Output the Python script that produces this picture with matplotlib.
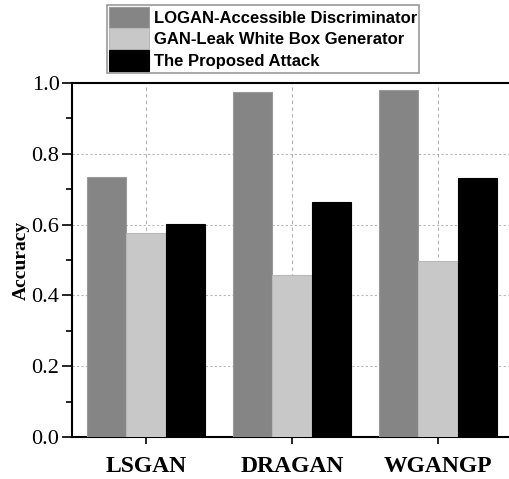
import numpy as np
import matplotlib
matplotlib.use('Agg')
import matplotlib.pyplot as plt
from matplotlib.ticker import MultipleLocator

categories = ['LSGAN', 'DRAGAN', 'WGANGP']
series_names = ['LOGAN-Accessible Discriminator',
                'GAN-Leak White Box Generator',
                'The Proposed Attack']
logan = [0.735, 0.975, 0.980]
ganleak = [0.575, 0.457, 0.498]
proposed = [0.603, 0.663, 0.732]
yticks = [0.0, 0.2, 0.4, 0.6, 0.8, 1.0]

colors = ['#858585', '#c8c8c8', '#000000']
edges = ['#9a9a9a', '#b8b8b8', '#000000']

fig = plt.figure(figsize=(5.09, 4.79), dpi=100)
ax = fig.add_axes([72 / 509, 42 / 479, 440 / 509, 354 / 479])

x = np.arange(len(categories))
w = 0.27
bars = []
for i, (vals, name) in enumerate(zip([logan, ganleak, proposed], series_names)):
    b = ax.bar(x + (i - 1) * w, vals, w, color=colors[i], edgecolor=edges[i],
               linewidth=0.8, label=name, zorder=3)
    bars.append(b)

ax.set_xlim(-0.507, 2.507)
ax.set_ylim(0, 1.0)
ax.set_xticks(x)
ax.set_xticklabels(categories, fontfamily='Liberation Serif', fontweight='bold',
                   fontsize=17)
ax.set_yticks(yticks)
ax.set_yticklabels(['%.1f' % t for t in yticks], fontfamily='Liberation Serif',
                   fontsize=16)
ax.yaxis.set_minor_locator(MultipleLocator(0.1))
ax.tick_params(axis='x', direction='out', length=5, width=1.2, pad=9)
ax.tick_params(axis='y', which='major', direction='out', length=7, width=1.2, pad=2)
ax.tick_params(axis='y', which='minor', direction='out', length=4, width=1.2)

ax.set_ylabel('Accuracy', fontfamily='Liberation Serif', fontweight='bold',
              fontsize=14, labelpad=1)

# grid: dotted horizontal, dashed vertical at category centres
for t in [0.2, 0.4, 0.6, 0.8]:
    ax.axhline(t, color='#b8b8b8', linestyle=(0, (2, 2)), linewidth=0.8, zorder=0)
for xi in x:
    ax.axvline(xi, color='#b0b0b0', linestyle=(0, (3, 3)), linewidth=0.8, zorder=0)

for side in ['left', 'bottom', 'top']:
    ax.spines[side].set_linewidth(1.5)
ax.spines['right'].set_visible(False)

leg = fig.legend(handles=bars, labels=series_names, loc='upper left',
                 bbox_to_anchor=(107 / 509, 1 - 5 / 479),
                 prop={'family': 'Liberation Sans', 'weight': 'bold', 'size': 12},
                 frameon=True, fancybox=False, edgecolor='#808080',
                 handlelength=2.4, handleheight=1.55, handletextpad=0.3,
                 labelspacing=0.05, borderpad=0.1, borderaxespad=0)
leg.get_frame().set_linewidth(1.2)

fig.savefig('out.png', dpi=100)
